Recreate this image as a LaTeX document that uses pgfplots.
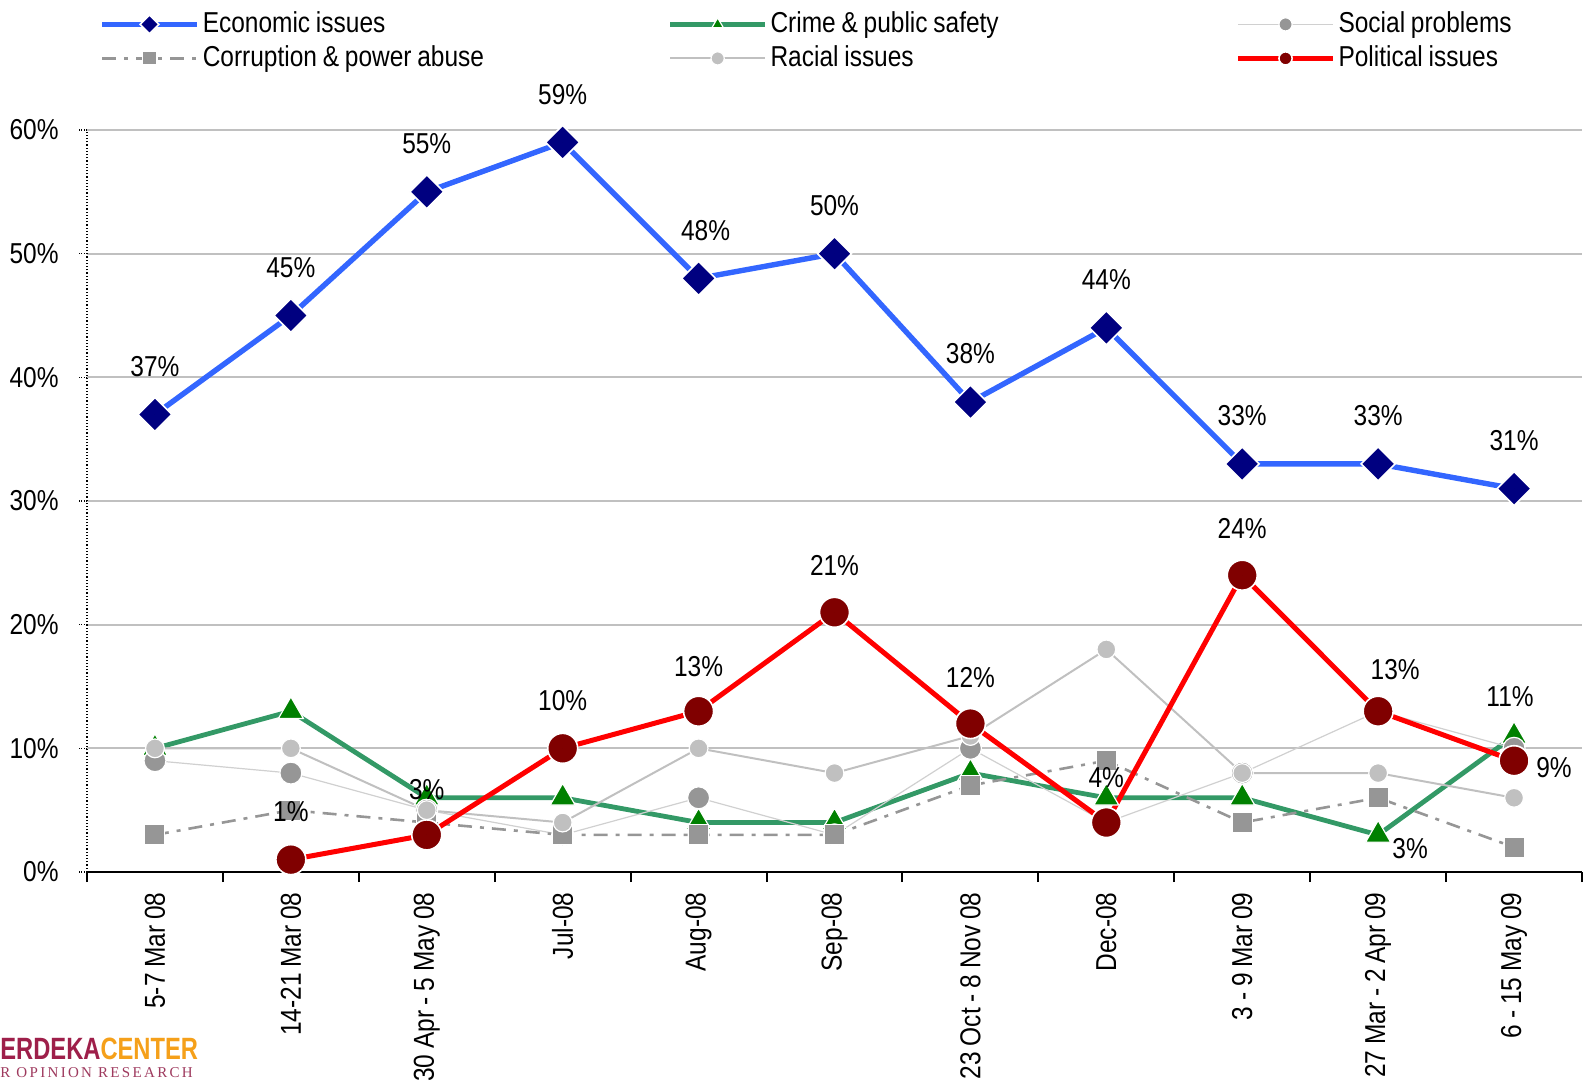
\documentclass[border=0pt]{standalone}
\usepackage{fontspec}
\setmainfont{Liberation Sans}[FakeStretch=0.85, WordSpace=0.85]
\newfontfamily\logofont{Liberation Sans}[FakeStretch=0.77]
\newfontfamily\logoserif{Liberation Serif}[LetterSpace=15.5]
\usepackage{pgfplots}
\pgfplotsset{compat=1.18}

\definecolor{econ}{HTML}{3366FF}
\definecolor{econmark}{HTML}{000080}
\definecolor{crime}{HTML}{339966}
\definecolor{crimemark}{HTML}{008000}
\definecolor{socmark}{HTML}{969696}
\definecolor{socline}{HTML}{D0D0D0}
\definecolor{corr}{HTML}{969696}
\definecolor{racial}{HTML}{C0C0C0}
\definecolor{pol}{HTML}{FF0000}
\definecolor{polmark}{HTML}{800000}
\definecolor{gridc}{HTML}{C0C0C0}
\definecolor{logored}{HTML}{9E1F4A}
\definecolor{logoorange}{HTML}{F5A01A}
\definecolor{logoline}{HTML}{9E3A5E}

\newcommand\legtext[1]{\makebox[231pt][l]{#1}}

\begin{document}
\fontsize{14.4}{17}\selectfont
\begin{tikzpicture}
\path[use as bounding box] (0,0) rectangle (792.5pt,544pt);

\begin{axis}[
  at={(43.5pt,108pt)}, anchor=south west,
  scale only axis, width=747.5pt, height=371pt,
  xmin=-0.5, xmax=10.5, ymin=0, ymax=60,
  axis x line*=bottom, axis y line*=left,
  x axis line style={-, black, line width=1.2pt},
  y axis line style={-, black, densely dotted, line width=0.6pt},
  tick align=outside,
  xtick={0,...,10},
  xticklabels={5-7 Mar 08, 14-21 Mar 08, 30 Apr - 5 May 08, Jul-08, Aug-08, Sep-08,
    23 Oct - 8 Nov 08, Dec-08, 3 - 9 Mar 09, 27 Mar - 2 Apr 09, 6 - 15 May 09},
  xticklabel style={rotate=90, anchor=east, inner sep=0pt, xshift=-6pt},
  major x tick style={draw=none},
  minor xtick={-0.5,0.5,...,10.5},
  minor x tick style={black, line width=1pt},
  minor tick length=5pt,
  ytick={0,10,...,60},
  yticklabels={0\%,10\%,20\%,30\%,40\%,50\%,60\%},
  yticklabel style={anchor=east, inner sep=0pt, xshift=-10pt},
  major tick length=4pt,
  y tick style={black, densely dotted, line width=0.6pt},
  ymajorgrids, grid style={gridc, line width=1pt},
  clip=false,
  /pgf/number format/assume math mode=true,
  legend columns=3,
  legend image code/.code={\draw[mark repeat=2, mark phase=2, #1] plot coordinates {(0pt,0pt) (23.75pt,0pt) (47.5pt,0pt)};},
  legend image post style={mark size=3.3pt},
  legend style={draw=none, fill=none, at={(axis description cs:0.008,1)}, anchor=north west,
    yshift=60pt, inner sep=0pt, column sep=0pt, row sep=3pt,
    nodes={inner ysep=0pt, inner xsep=1.5pt, text height=11pt, text depth=3pt}},
]

\addplot[econ, line width=2.7pt, mark=square*, mark size=6pt,
  mark options={rotate=45, fill=econmark, draw=white, line width=0.8pt, solid}]
  coordinates {(0,37) (1,45) (2,55) (3,59) (4,48) (5,50) (6,38) (7,44) (8,33) (9,33) (10,31)};
\addlegendentry{\legtext{Economic issues}}

\addplot[crime, line width=2.4pt, mark=triangle*, mark size=7.2pt,
  mark options={fill=crimemark, draw=white, line width=0.6pt, solid}]
  coordinates {(0,10) (1,13) (2,6) (3,6) (4,4) (5,4) (6,8) (7,6) (8,6) (9,3) (10,11)};
\addlegendentry{\legtext{Crime \& public safety}}

\addplot[socline, line width=0.6pt, mark=*, mark size=5.5pt,
  mark options={fill=socmark, draw=white, line width=0.6pt, solid}]
  coordinates {(0,9) (1,8) (2,5) (3,3) (4,6) (5,3) (6,10) (7,4) (8,8) (9,13) (10,10)};
\addlegendentry{\legtext{Social problems}}

\addplot[corr, line width=1.3pt, dash pattern=on 7pt off 4pt on 2pt off 4pt, mark=square*, mark size=5pt,
  mark options={fill=corr, draw=white, line width=0.5pt, solid}]
  coordinates {(0,3) (1,5) (2,4) (3,3) (4,3) (5,3) (6,7) (7,9) (8,4) (9,6) (10,2)};
\addlegendentry{\legtext{Corruption \& power abuse}}

\addplot[racial, line width=1pt, mark=*, mark size=4.7pt,
  mark options={fill=racial, draw=white, line width=0.6pt, solid}]
  coordinates {(0,10) (1,10) (2,5) (3,4) (4,10) (5,8) (6,11) (7,18) (8,8) (9,8) (10,6)};
\addlegendentry{\legtext{Racial issues}}

\addplot[pol, line width=2.5pt, mark=*, mark size=7.5pt,
  mark options={fill=polmark, draw=white, line width=0.8pt, solid}]
  coordinates {(1,1) (2,3) (3,10) (4,13) (5,21) (6,12) (7,4) (8,24) (9,13) (10,9)};
\addlegendentry{\legtext{Political issues}}

% data labels
\addplot[forget plot, only marks, mark=*, mark size=0pt, mark options={draw=none, fill=none},
  point meta=explicit, nodes near coords={\pgfmathprintnumber{\pgfplotspointmeta}\%},
  visualization depends on={\thisrow{dx}\as\dx},
  visualization depends on={\thisrow{dy}\as\dy},
  nodes near coords style={anchor=center, inner sep=0pt, xshift=\dx pt, yshift=\dy pt, text=black}]
  table[x=x, y=y, meta=y] {
x y dx dy
0 37 0 24
1 45 0 24
2 55 0 24
3 59 0 24
4 48 3.5 24
5 50 0 24
6 38 0 24
7 44 0 24
8 33 0 24
9 33 0 24
10 31 0 24
1 1 0 24
2 3 0 22.5
3 10 0 24
4 13 0 22.5
5 21 0 23.5
6 12 0 23
7 4 0 22.5
8 24 0 23.5
9 13 8.5 21
10 9 20 -3.5
9 3 16 -7
10 11 -2 19.5
};
\end{axis}

\node[anchor=base west, inner sep=0pt] at (0pt,14.5pt)
  {\fontsize{15.4}{16}\logofont\bfseries\textcolor{logored}{ERDEKA}\textcolor{logoorange}{CENTER}};
\node[anchor=base west, inner sep=0pt] at (0pt,5.5pt)
  {\fontsize{7.5}{8}\logoserif\textcolor{logoline}{R OPINION RESEARCH}};
\end{tikzpicture}
\end{document}
